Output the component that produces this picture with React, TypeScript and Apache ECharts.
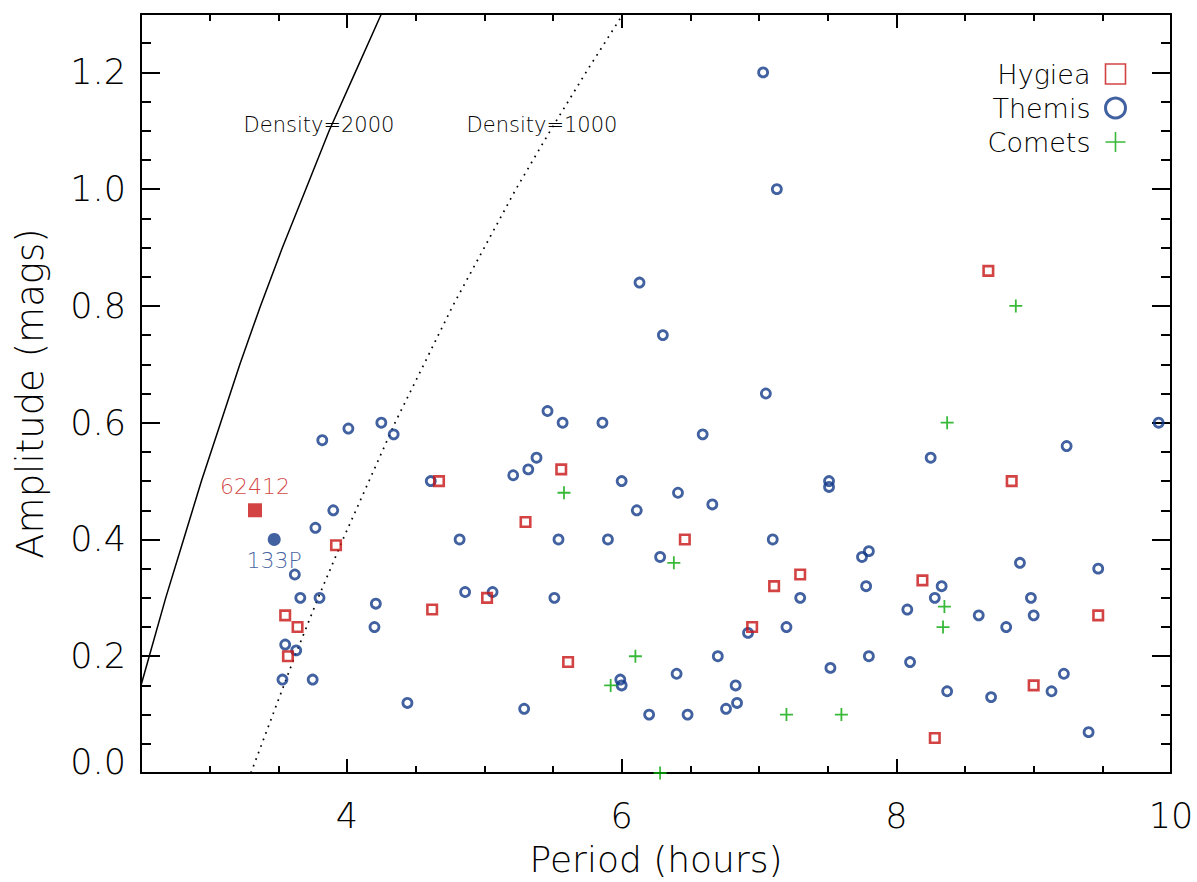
import React, { useEffect, useRef } from 'react';
import * as echarts from 'echarts';

// ---- data (period in hours, amplitude in mags) ----
const hygiea: number[][] = [
  [3.92, 0.39], [3.55, 0.27], [3.64, 0.25], [3.57, 0.20], [4.62, 0.28], [4.67, 0.50],
  [5.02, 0.30], [5.30, 0.43], [5.56, 0.52], [5.61, 0.19], [6.46, 0.40], [6.95, 0.25],
  [7.11, 0.32], [7.30, 0.34], [8.19, 0.33], [8.28, 0.06], [8.67, 0.86], [8.84, 0.50],
  [9.00, 0.15], [9.47, 0.27],
];

const themis: number[][] = [
  [7.03, 1.20], [7.13, 1.00], [6.13, 0.84], [6.30, 0.75], [7.05, 0.65],
  [3.82, 0.57], [4.01, 0.59], [4.25, 0.60], [4.34, 0.58], [5.46, 0.62], [5.57, 0.60],
  [5.86, 0.60], [6.59, 0.58], [9.91, 0.60],
  [5.38, 0.54], [5.32, 0.52], [5.21, 0.51], [4.61, 0.50], [6.00, 0.50], [7.51, 0.50],
  [7.51, 0.49], [8.25, 0.54], [9.24, 0.56],
  [6.41, 0.48], [6.66, 0.46], [6.11, 0.45], [3.90, 0.45], [3.77, 0.42],
  [4.82, 0.40], [5.54, 0.40], [5.90, 0.40], [7.10, 0.40],
  [6.28, 0.37], [7.75, 0.37], [7.80, 0.38], [8.90, 0.36], [9.47, 0.35], [3.62, 0.34],
  [7.78, 0.32], [8.33, 0.32], [3.66, 0.30], [3.80, 0.30], [4.86, 0.31], [5.06, 0.31],
  [5.51, 0.30], [7.30, 0.30], [8.28, 0.30], [8.98, 0.30],
  [4.21, 0.29], [4.20, 0.25], [8.08, 0.28], [8.60, 0.27], [9.00, 0.27], [8.80, 0.25],
  [7.20, 0.25], [6.92, 0.24],
  [3.55, 0.22], [3.63, 0.21], [6.70, 0.20], [7.80, 0.20], [8.10, 0.19], [7.52, 0.18],
  [5.99, 0.16], [6.00, 0.15], [3.53, 0.16], [3.75, 0.16], [6.40, 0.17], [9.22, 0.17],
  [6.83, 0.15], [8.37, 0.14], [9.13, 0.14], [8.69, 0.13],
  [6.84, 0.12], [6.76, 0.11], [4.44, 0.12], [5.29, 0.11], [6.20, 0.10], [6.48, 0.10],
  [9.40, 0.07],
];

const comets: number[][] = [
  [5.58, 0.48], [6.38, 0.36], [5.92, 0.15], [6.10, 0.20], [6.28, 0.00], [7.20, 0.10],
  [7.60, 0.10], [8.37, 0.60], [8.35, 0.285], [8.34, 0.25], [8.87, 0.80],
];

const obj62412: number[][] = [[3.33, 0.45]];
const obj133P: number[][] = [[3.47, 0.40]];

// critical-spin curves
const density2000: number[][] = [
  [2.44, 0.1], [2.50, 0.15], [2.56, 0.2], [2.68, 0.3], [2.81, 0.4], [2.94, 0.5], [3.08, 0.6],
  [3.22, 0.7], [3.37, 0.8], [3.53, 0.9], [3.70, 1.0], [3.87, 1.1], [4.06, 1.2], [4.25, 1.3],
];
const density1000: number[][] = [
  [3.30, 0.0], [3.46, 0.1], [3.62, 0.2], [3.79, 0.3], [3.97, 0.4], [4.16, 0.5], [4.35, 0.6],
  [4.56, 0.7], [4.77, 0.8], [5.00, 0.9], [5.23, 1.0], [5.48, 1.1], [5.74, 1.2], [6.01, 1.3],
];

const xMajorTicks = [4, 6, 8, 10];
const yMajorTicks = [0, 0.2, 0.4, 0.6, 0.8, 1.0, 1.2];
const legendNames = ['Hygiea', 'Themis', 'Comets'];
const curveLabels = ['Density=2000', 'Density=1000'];

const RED = '#c81414';
const BLUE = '#123a88';
const GREEN = '#08a808';
const FONT = "'DejaVu Sans', sans-serif";
const FW = 200;
const PLUS = 'path://M10,0L10,20M0,10L20,10';
const CLEAR = 'rgba(0,0,0,0)';

const X_MIN = 2.5, X_MAX = 10, Y_MIN = 0, Y_MAX = 1.3;

export default function App() {
  const ref = useRef<HTMLDivElement>(null);

  useEffect(() => {
    if (!ref.current) return;
    const chart = echarts.init(ref.current, undefined, { renderer: 'svg' });

    const axisLineStyle = { color: '#000', width: 2 };
    const tickStyle = { color: '#000', width: 2 };
    const labelFont = { fontSize: 35, color: '#000', fontFamily: FONT, fontWeight: FW };

    const xBase = (position: string) => ({
      type: 'value', min: X_MIN, max: X_MAX, position,
      splitLine: { show: false },
    });
    const yBase = (position: string) => ({
      type: 'value', min: Y_MIN, max: Y_MAX, position,
      splitLine: { show: false },
    });

    const option: any = {
      animation: false,
      backgroundColor: '#fff',
      grid: { left: 141, top: 14, width: 1030, height: 760, containLabel: false },
      xAxis: [
        {
          ...xBase('bottom'),
          axisLine: { show: true, onZero: false, lineStyle: axisLineStyle },
          axisTick: { show: true, inside: true, length: 14, lineStyle: tickStyle, customValues: xMajorTicks },
          axisLabel: { show: true, customValues: xMajorTicks, margin: 25, ...labelFont },
          name: 'Period (hours)', nameLocation: 'middle', nameGap: 68,
          nameTextStyle: { fontSize: 36, color: '#000', fontFamily: FONT, fontWeight: FW },
        },
        {
          ...xBase('bottom'), interval: 0.5,
          axisLine: { show: false, onZero: false },
          axisTick: { show: true, inside: true, length: 7, lineStyle: tickStyle },
          axisLabel: { show: false },
        },
        {
          ...xBase('top'),
          axisLine: { show: true, onZero: false, lineStyle: axisLineStyle },
          axisTick: { show: true, inside: true, length: 14, lineStyle: tickStyle, customValues: xMajorTicks },
          axisLabel: { show: false },
        },
        {
          ...xBase('top'), interval: 0.5,
          axisLine: { show: false, onZero: false },
          axisTick: { show: true, inside: true, length: 7, lineStyle: tickStyle },
          axisLabel: { show: false },
        },
      ],
      yAxis: [
        {
          ...yBase('left'),
          axisLine: { show: true, onZero: false, lineStyle: axisLineStyle },
          axisTick: { show: true, inside: true, length: 19, lineStyle: tickStyle, customValues: yMajorTicks },
          axisLabel: {
            show: true, customValues: yMajorTicks, margin: 15, ...labelFont,
            formatter: (v: number) => (Math.abs(v) < 1e-9 ? '{z|0.0}' : v.toFixed(1)),
            rich: { z: { ...labelFont, padding: [0, 0, 22, 0] } },
          },
          name: 'Amplitude (mags)', nameLocation: 'middle', nameGap: 92, nameRotate: 90,
          nameTextStyle: { fontSize: 37, color: '#000', fontFamily: FONT, fontWeight: FW },
        },
        {
          ...yBase('left'), interval: 0.05,
          axisLine: { show: false, onZero: false },
          axisTick: { show: true, inside: true, length: 10, lineStyle: tickStyle },
          axisLabel: { show: false },
        },
        {
          ...yBase('right'),
          axisLine: { show: true, onZero: false, lineStyle: axisLineStyle },
          axisTick: { show: true, inside: true, length: 19, lineStyle: tickStyle, customValues: yMajorTicks },
          axisLabel: { show: false },
        },
        {
          ...yBase('right'), interval: 0.05,
          axisLine: { show: false, onZero: false },
          axisTick: { show: true, inside: true, length: 10, lineStyle: tickStyle },
          axisLabel: { show: false },
        },
      ],
      legend: {
        orient: 'vertical', right: 70, top: 59, align: 'right', padding: 0,
        itemWidth: 20, itemHeight: 20, itemGap: 4, selectedMode: false,
        textStyle: { fontSize: 27, color: '#000', fontFamily: FONT, fontWeight: FW, lineHeight: 30, padding: [0, 10, 0, 0] },
        data: [
          { name: legendNames[0], icon: 'rect', itemStyle: { color: CLEAR, borderColor: RED, borderWidth: 1.6 } },
          { name: legendNames[1], icon: 'circle', itemStyle: { color: CLEAR, borderColor: BLUE, borderWidth: 3 } },
          { name: legendNames[2], icon: PLUS, itemStyle: { color: CLEAR, borderColor: GREEN, borderWidth: 1.6 } },
        ],
      },
      graphic: [
        {
          type: 'text', x: 319, y: 125, silent: true,
          style: { text: curveLabels[0], fill: '#000', fontSize: 21, fontFamily: FONT, fontWeight: FW, align: 'center', verticalAlign: 'middle' },
        },
        {
          type: 'text', x: 542, y: 125, silent: true,
          style: { text: curveLabels[1], fill: '#000', fontSize: 21, fontFamily: FONT, fontWeight: FW, align: 'center', verticalAlign: 'middle' },
        },
      ],
      series: [
        {
          name: curveLabels[0], type: 'line', data: density2000, showSymbol: false, silent: true,
          lineStyle: { color: '#000', width: 1.5 }, z: 1,
        },
        {
          name: curveLabels[1], type: 'line', data: density1000, showSymbol: false, silent: true,
          lineStyle: { color: '#000', width: 1.7, type: [1.7, 5.3] }, z: 1,
        },
        {
          name: legendNames[0], type: 'scatter', data: hygiea, symbol: 'rect', symbolSize: 9.5,
          itemStyle: { color: CLEAR, borderColor: RED, borderWidth: 2.6 }, z: 3,
        },
        {
          name: legendNames[1], type: 'scatter', data: themis, symbol: 'circle', symbolSize: 9,
          itemStyle: { color: CLEAR, borderColor: BLUE, borderWidth: 2.8 }, z: 2,
        },
        {
          name: legendNames[2], type: 'scatter', data: comets, symbol: PLUS, symbolSize: 13,
          itemStyle: { color: CLEAR, borderColor: GREEN, borderWidth: 1.8 }, z: 4,
        },
        {
          name: '62412', type: 'scatter', data: obj62412, symbol: 'rect', symbolSize: 14,
          itemStyle: { color: RED },
          label: { show: true, position: 'top', distance: 6, formatter: '62412', color: RED, fontSize: 22, fontFamily: FONT, fontWeight: FW },
        },
        {
          name: '133P', type: 'scatter', data: obj133P, symbol: 'circle', symbolSize: 13,
          itemStyle: { color: BLUE },
          label: { show: true, position: 'bottom', distance: 4, formatter: '133P', color: BLUE, fontSize: 22, fontFamily: FONT, fontWeight: FW },
        },
      ],
    };

    chart.setOption(option);
    return () => chart.dispose();
  }, []);

  return (
    <div
      ref={ref}
      style={{ position: 'fixed', left: 0, top: 0, width: 1197, height: 882, background: '#fff' }}
    />
  );
}
